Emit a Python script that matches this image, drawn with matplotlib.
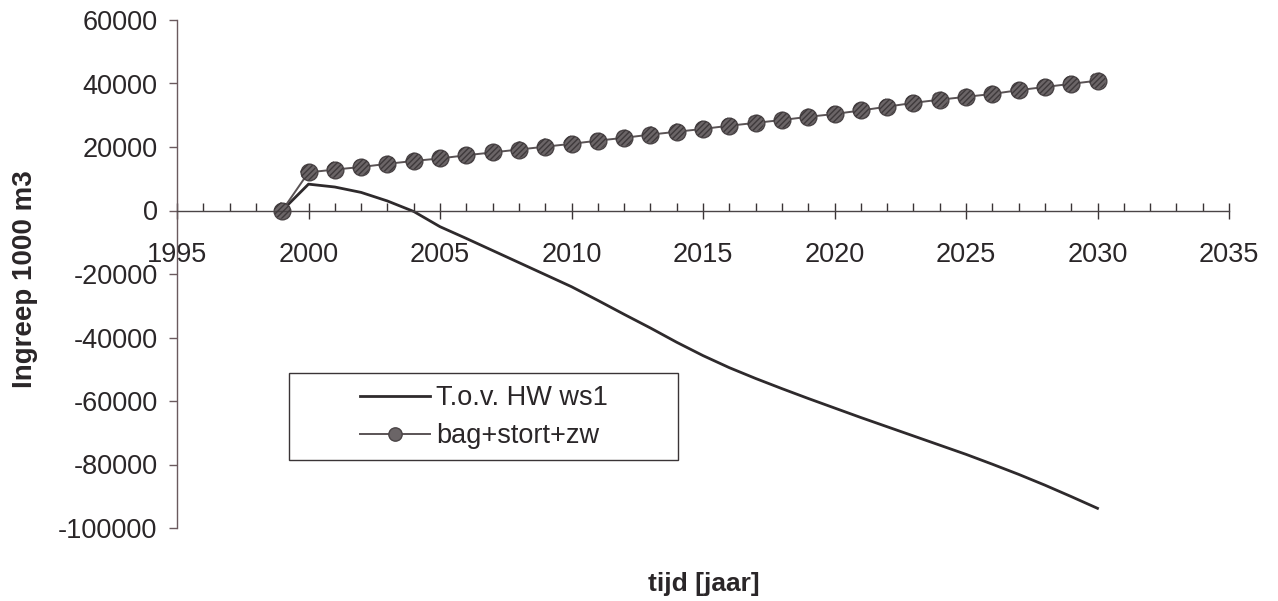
import matplotlib
matplotlib.use("Agg")
import matplotlib.pyplot as plt
from matplotlib.patches import Rectangle
from matplotlib.ticker import MultipleLocator

plt.rcParams['font.family'] = ['Liberation Sans', 'DejaVu Sans']
plt.rcParams['axes.unicode_minus'] = False

years = list(range(1999, 2031))

# T.o.v. HW ws1 (1000 m3)
hw_ws1 = [0, 8300, 7400, 5700, 3000, -300, -5100, -8800, -12600, -16400,
          -20200, -24000, -28300, -32700, -37000, -41500, -45700, -49500,
          -52900, -56100, -59200, -62200, -65200, -68100, -71000, -73900,
          -76800, -79900, -83100, -86500, -90100, -93800]

# bag+stort+zw (1000 m3)
bag_stort_zw = [0, 12000, 12900, 13700, 14700, 15600, 16400, 17400, 18300,
                19200, 20100, 21000, 22000, 22900, 23900, 24800, 25700,
                26700, 27600, 28500, 29500, 30400, 31500, 32700, 33900,
                34900, 35800, 36700, 37900, 38900, 39900, 40900]

W, H = 1278, 601
fig = plt.figure(figsize=(W / 100, H / 100), dpi=100)
ax = fig.add_axes([177 / W, 1 - 528 / H, (1229 - 177) / W, (528 - 20) / H])

ax.plot(years, hw_ws1, color='#2e2a2c', lw=2.0, label='T.o.v. HW ws1')
ax.plot(years, bag_stort_zw, color='#5a5355', lw=1.4, marker='o', markersize=12,
        markerfacecolor='#6b6567', markeredgecolor='#4a4446', label='bag+stort+zw')
ax.scatter(years, bag_stort_zw, s=140, facecolor='none', edgecolor='#3e393b',
           hatch='//////', lw=0, zorder=3)

ax.set_xlim(1995, 2035)
ax.set_ylim(-100000, 60000)
ax.xaxis.set_major_locator(MultipleLocator(5))
ax.xaxis.set_minor_locator(MultipleLocator(1))
ax.yaxis.set_major_locator(MultipleLocator(20000))

ax.spines['top'].set_visible(False)
ax.spines['right'].set_visible(False)
ax.spines['bottom'].set_position(('data', 0))
ax.spines['bottom'].set_color('#4a4446')
ax.spines['left'].set_color('#6a5a5e')
ax.spines['bottom'].set_linewidth(1.0)
ax.spines['left'].set_linewidth(1.0)

ax.tick_params(axis='x', which='major', direction='inout', length=12, width=1.0,
               labelsize=19.5, pad=17, colors='#3a3436', labelcolor='#2a2628')
ax.tick_params(axis='x', which='minor', direction='in', length=6, width=1.0,
               colors='#3a3436')
ax.tick_params(axis='y', which='major', direction='out', length=6, width=1.0,
               labelsize=19.5, pad=8, colors='#6a5a5e', labelcolor='#2a2628')

ax.set_xlabel('tijd [jaar]', fontsize=19, fontweight='bold', color='#2a2628')
ax.xaxis.set_label_coords(0.501, -0.087)
ax.set_ylabel('Ingreep 1000 m3', fontsize=20, fontweight='bold', color='#2a2628')
ax.yaxis.set_label_coords(-0.132, 0.49)

# legend box (wide frame drawn separately, entries placed inside)
fig.add_artist(Rectangle((289 / W, 1 - 460 / H), (678 - 289) / W, (460 - 373) / H,
                         transform=fig.transFigure, facecolor='white',
                         edgecolor='#3a3436', lw=1.0, zorder=4))
leg = fig.legend(loc='upper left', bbox_to_anchor=(360 / W, 1 - 385 / H),
                 fontsize=19.5, frameon=False, handlelength=2.6, borderpad=0,
                 labelspacing=0.45, borderaxespad=0, handletextpad=0.2,
                 markerscale=0.8)
leg.set_zorder(5)
for t in leg.get_texts():
    t.set_color('#2a2628')

fig.savefig('out.png', dpi=100, facecolor='white')
